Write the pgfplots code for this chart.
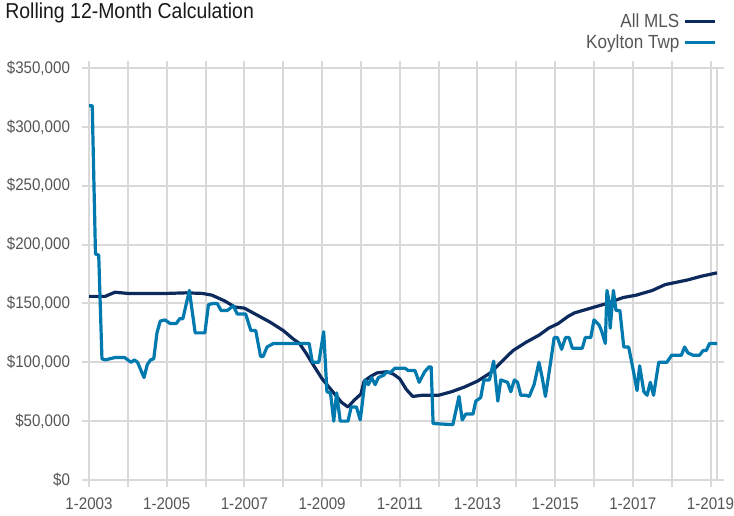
\documentclass[border=0pt]{standalone}
\usepackage{pgfplots}
\pgfplotsset{compat=1.18}
\usepackage{fontspec}
\setmainfont{Liberation Sans}[FakeStretch=0.9]
\definecolor{mls}{RGB}{12,42,92}
\definecolor{koy}{RGB}{0,121,175}
\definecolor{gridc}{RGB}{217,217,217}
\definecolor{lbl}{RGB}{85,85,85}
\begin{document}
\begin{tikzpicture}
\useasboundingbox (0,0) rectangle (367pt,257.5pt);
\node[anchor=north west, inner sep=0pt, font=\fontsize{10.8}{13}\selectfont, text=black!90] at (2.5pt,256.3pt) {Rolling 12-Month Calculation};
\begin{axis}[
  at={(44.5pt,17.5pt)}, anchor=south west,
  scale only axis, width=314pt, height=206pt,
  xmin=0, xmax=194, ymin=0, ymax=350000,
  axis line style={gridc, line width=1pt},
  grid=both,
  major grid style={gridc, line width=1pt},
  minor grid style={gridc, line width=1pt},
  xtick={0,24,...,192},
  xticklabels={1-2003,1-2005,1-2007,1-2009,1-2011,1-2013,1-2015,1-2017,1-2019},
  minor xtick={12,36,...,180},
  ytick={0,50000,...,350000},
  yticklabels={\$0,{\$50,000},{\$100,000},{\$150,000},{\$200,000},{\$250,000},{\$300,000},{\$350,000}},
  tick align=outside,
  major tick length=3.5pt, minor tick length=3.5pt,
  tick style={gridc, line width=1pt},
  x tick label style={font=\fontsize{8.4}{10}\selectfont, text=lbl, yshift=-2pt},
  y tick label style={font=\fontsize{8.4}{10}\selectfont, text=lbl, xshift=-2.5pt},
  scaled y ticks=false,
  legend cell align=right,
  legend plot pos=right,
  legend style={at={(1.0,1.143)}, anchor=north east, draw=none, fill=none,
    font=\fontsize{9.5}{11}\selectfont, text=lbl, row sep=-2pt, inner sep=0pt,
    nodes={inner sep=2pt}},
  legend image code/.code={\draw[#1] (0pt,0pt) -- (15pt,0pt);},
  clip=false,
]
\addplot[mls, line width=1.6pt, line join=round] coordinates {
(0,156000)(5,156000)(8,159500)(12,158500)(18,158500)(24,158500)(30,159000)(35,158500)
(38,157000)(42,152000)(45,147000)(48,146000)(52,140000)(56,134000)(60,127000)(63,120000)
(65,116000)(67,108000)(69,99000)(72,86000)(75,76000)(78,66000)(80,62000)(82,68000)
(84,73000)(85,84000)(87,88000)(89,91000)(92,92000)(94,90000)(96,86000)(98,77000)
(100,71000)(103,72000)(108,72000)(112,75000)(116,79000)(120,84000)(124,91000)(128,102000)
(131,110000)(135,117000)(139,123000)(142,129000)(145,133000)(148,139000)(150,142000)
(155,146000)(160,150000)(165,155000)(169,157000)(174,161000)(178,166000)(185,170000)
(189,173000)(194,176000)
};
\addlegendentry{All MLS}
\addplot[koy, line width=1.6pt, line join=round] coordinates {
(0,318000)(1,318000)(2,192000)(3,191000)(4,103000)(5,102000)(8,104000)(11,104000)
(13,100000)(14,102000)(15,100000)(17,87000)(18,98000)(19,102000)(20,103000)(21,125000)
(22,135000)(23.5,136000)(25,133000)(27,133000)(28,137000)(29,137000)(31,161000)
(32.8,125000)(35.8,125000)(36.9,149000)(38.4,150000)(39.6,150000)(40.8,144000)
(42.7,144000)(44.6,148000)(45.8,141000)(48.4,141000)(50,127000)(51.5,127000)
(53,105000)(53.8,105000)(55,113000)(57,116000)(68,116000)(69,100000)(71,100000)
(72.5,126000)(73.5,75000)(74.6,74000)(75.6,50000)(76.5,74000)(77.6,50000)(80,50000)
(81,62000)(82.6,62000)(83.8,51000)(85.3,85000)(86.3,81000)(87.3,87000)(88.4,81000)
(89.4,87000)(91,89000)(92,92000)(93,91000)(94.5,95000)(97.6,95000)(98.6,93000)
(100.7,93000)(102,83000)(103.7,92000)(105,96000)(105.7,96000)(106.3,48000)
(112.4,47000)(114.3,71000)(115.3,51000)(116.4,56000)(118.6,56000)(119.5,67000)
(121,70000)(122,85000)(123.7,85000)(125,101000)(126.3,67000)(127.2,85000)
(129.3,83000)(130.3,75000)(131.4,85000)(132.4,83000)(133.4,72000)(134.9,72000)
(136,71000)(137.5,81000)(139,100000)(140,87000)(141,71000)(142.6,100000)
(143.7,121000)(144.7,121000)(146,111000)(147.2,121000)(148.3,121000)(149.3,112000)
(152.4,112000)(153.3,121000)(155,121000)(156,136000)(157.5,132000)(158.3,127000)
(159.5,116000)(160,161000)(160.6,153000)(161,129000)(162,161000)(162.8,144000)
(164,144000)(165.2,113000)(166.7,113000)(167.8,98000)(169.3,76000)(170.1,97000)
(171.4,75000)(172.4,72000)(173.4,83000)(174.4,72000)(176,100000)(178.5,100000)
(180,106000)(183,106000)(184,113000)(185,108000)(186.6,106000)(188.6,106000)
(189.7,110000)(190.7,110000)(191.7,116000)(194,116000)
};
\addlegendentry{Koylton Twp}
\end{axis}
\end{tikzpicture}
\end{document}
